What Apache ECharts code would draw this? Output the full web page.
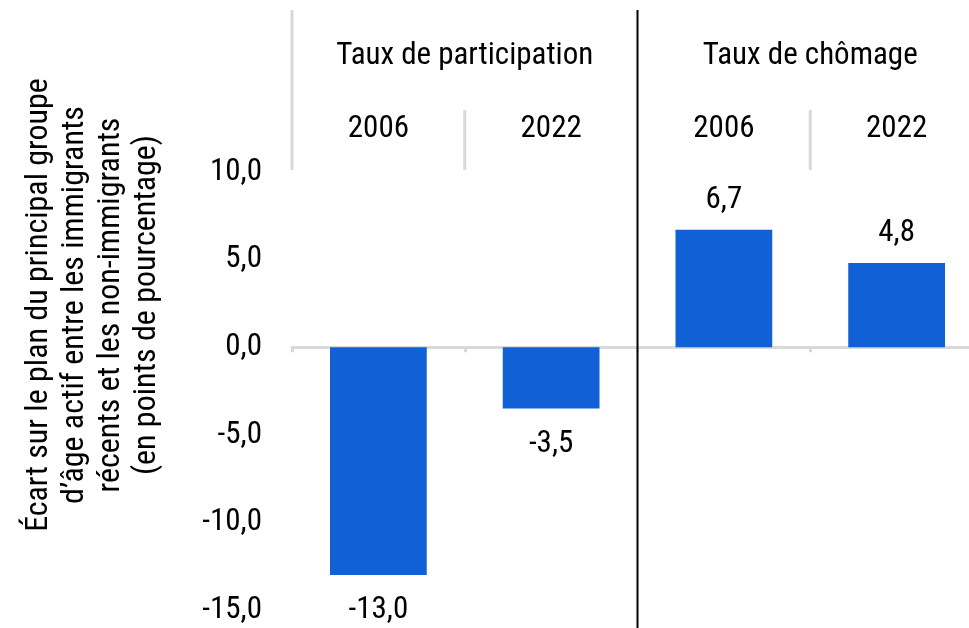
<!DOCTYPE html>
<html>
<head>
<meta charset="utf-8">
<script src="https://cdn.jsdelivr.net/npm/echarts@6/dist/echarts.min.js"></script>
<style>
  html, body { margin: 0; padding: 0; background: #fff; }
  #main { width: 969px; height: 628px; }
</style>
</head>
<body>
<div id="main"></div>
<script>
// données du graphique
var groupes = ['Taux de participation', 'Taux de chômage'];
var annees = ['2006', '2022', '2006', '2022'];
var ecarts = [-13.0, -3.5, 6.7, 4.8];
var yTicks = [-15, -10, -5, 0, 5, 10];

var titreY = ['Écart sur le plan du principal groupe',
  'd’âge actif entre les immigrants',
  'récents et les non-immigrants',
  '(en points de pourcentage)'];

var police = '"Roboto Condensed", "Liberation Sans Narrow", Roboto, sans-serif';
var gris = '#d9d9d9';

function virgule(v) {
  return v.toFixed(1).replace('.', ',');
}

var myChart = echarts.init(document.getElementById('main'));

var option = {
  animation: false,
  textStyle: { fontFamily: police },
  grid: { left: 292, right: -14, top: 172, bottom: 18, outerBoundsMode: 'none', containLabel: false },
  xAxis: [{
    type: 'category',
    data: annees,
    axisLine: { onZero: true, lineStyle: { color: gris, width: 3 } },
    axisTick: { show: true, interval: 0, length: 5, lineStyle: { color: gris, width: 3 } },
    axisLabel: { show: false }
  }, {
    type: 'category',
    position: 'top',
    data: annees,
    axisLine: { show: false },
    axisTick: { show: false },
    axisLabel: { interval: 0, margin: 27, fontSize: 31, color: '#000', fontFamily: police }
  }, {
    type: 'category',
    position: 'top',
    offset: 72,
    data: groupes,
    axisLine: { show: false },
    axisTick: { show: false },
    axisLabel: { interval: 0, margin: 28, fontSize: 31, color: '#000', fontFamily: police }
  }],
  yAxis: {
    type: 'value',
    min: yTicks[0],
    max: yTicks[yTicks.length - 1],
    interval: 5,
    splitLine: { show: false },
    axisLine: { show: false },
    axisTick: { show: false },
    axisLabel: { margin: 30, fontSize: 31, color: '#000', fontFamily: police, formatter: virgule }
  },
  series: [{
    type: 'bar',
    xAxisIndex: 0,
    barWidth: '56%',
    itemStyle: { color: '#1160D6' },
    data: ecarts.map(function (v) {
      return {
        value: v,
        label: { position: v < 0 ? 'bottom' : 'top', distance: v < 0 ? 20 : 14 }
      };
    }),
    label: {
      show: true,
      fontSize: 31,
      color: '#000',
      fontFamily: police,
      formatter: function (p) { return virgule(p.value); }
    }
  }]
};

myChart.setOption(option);

// lignes de séparation de l'en-tête, calculées depuis l'axe
var c0 = myChart.convertToPixel({ xAxisIndex: 0 }, 0);
var c1 = myChart.convertToPixel({ xAxisIndex: 0 }, 1);
var bande = c1 - c0;
var bords = [];
for (var i = 0; i < annees.length; i++) {
  bords.push(myChart.convertToPixel({ xAxisIndex: 0 }, i) - bande / 2);
}
var yHaut = myChart.convertToPixel({ yAxisIndex: 0 }, yTicks[yTicks.length - 1]);

var graphics = [
  { type: 'line', shape: { x1: bords[0], y1: 10, x2: bords[0], y2: yHaut - 2 }, style: { stroke: gris, lineWidth: 3 } },
  { type: 'line', shape: { x1: bords[1], y1: 110, x2: bords[1], y2: yHaut - 2 }, style: { stroke: gris, lineWidth: 3 } },
  { type: 'line', shape: { x1: bords[3], y1: 110, x2: bords[3], y2: yHaut - 2 }, style: { stroke: gris, lineWidth: 3 } },
  { type: 'line', z: 10, shape: { x1: bords[2], y1: 10, x2: bords[2], y2: 628 }, style: { stroke: '#000', lineWidth: 2 } },
  {
    type: 'text',
    x: 93, y: 305,
    rotation: Math.PI / 2,
    style: {
      text: titreY.join('\n'),
      font: '32px ' + police,
      lineHeight: 36,
      fill: '#000',
      align: 'center',
      verticalAlign: 'middle'
    }
  }
];
myChart.setOption({ graphic: graphics });
</script>
</body>
</html>
